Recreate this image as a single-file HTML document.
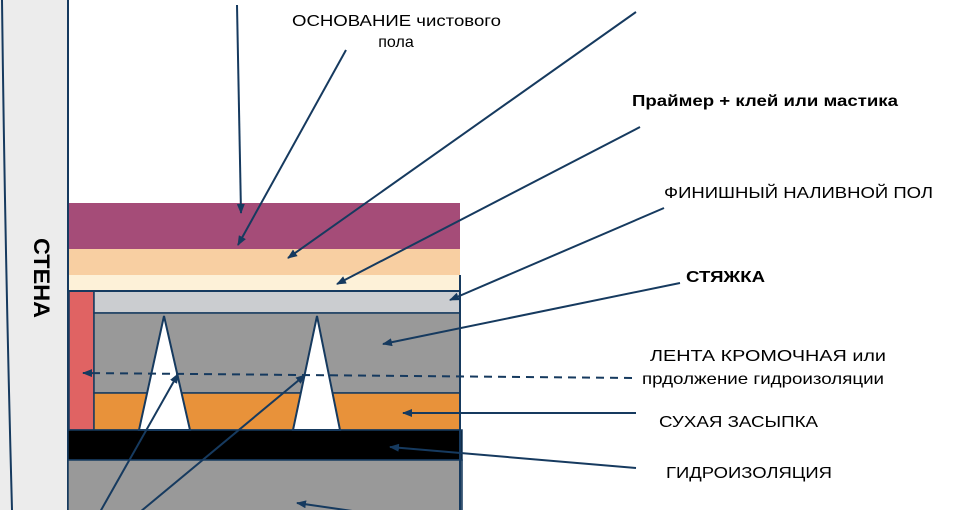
<!DOCTYPE html>
<html><head><meta charset="utf-8"><style>
html,body{margin:0;padding:0;background:#fff;}
svg{display:block;}
text{font-family:"Liberation Sans",Arial,sans-serif;fill:#000;}
</style></head><body>
<svg width="960" height="510" viewBox="0 0 960 510" xmlns="http://www.w3.org/2000/svg">
<defs>
<marker id="a" markerWidth="10" markerHeight="8" refX="9" refY="4" orient="auto" markerUnits="userSpaceOnUse">
<path d="M0,0 L10,4 L0,8 Z" fill="#163a5f"/></marker>
</defs>
<path d="M0,0 L68,0 L68,510 L0,510 Z" fill="#ececec"/>
<path d="M2,0 Q5,250 12,510" stroke="#163a5f" stroke-width="2" fill="none"/>
<line x1="68" y1="0" x2="68" y2="510" stroke="#163a5f" stroke-width="2"/>
<text transform="translate(34,278) rotate(90)" text-anchor="middle" font-size="22" font-weight="bold" textLength="80" lengthAdjust="spacingAndGlyphs">СТЕНА</text>
<rect x="69" y="203" width="391" height="46" fill="#a54c78"/>
<rect x="69" y="249" width="391" height="26" fill="#f8cfa2"/>
<rect x="69" y="275" width="391" height="16" fill="#fdf1d8"/>
<rect x="69" y="291" width="25" height="139" fill="#e06363" stroke="#163a5f" stroke-width="1.5"/>
<rect x="94" y="291" width="366" height="22" fill="#cbcdd0" stroke="#163a5f" stroke-width="1.5"/>
<rect x="94" y="313" width="366" height="80" fill="#999" stroke="#163a5f" stroke-width="1.5"/>
<rect x="94" y="393" width="366" height="37" fill="#e8923a" stroke="#163a5f" stroke-width="1.5"/>
<rect x="68" y="430" width="394" height="30" fill="#000" stroke="#163a5f" stroke-width="1.5"/>
<rect x="68" y="460" width="394" height="52" fill="#999" stroke="#163a5f" stroke-width="1.5"/>
<line x1="460" y1="275" x2="460" y2="510" stroke="#163a5f" stroke-width="2"/>
<line x1="69" y1="291" x2="460" y2="291" stroke="#163a5f" stroke-width="2"/>
<path d="M164,316 L190,430 L139,430 Z" fill="#fff" stroke="#163a5f" stroke-width="2"/>
<path d="M317,316 L340,430 L293,430 Z" fill="#fff" stroke="#163a5f" stroke-width="2"/>
<g stroke="#163a5f" stroke-width="2" fill="none" marker-end="url(#a)">
<line x1="237" y1="5" x2="241" y2="213"/>
<line x1="346" y1="50" x2="238" y2="245"/>
<line x1="636" y1="12" x2="288" y2="258"/>
<line x1="640" y1="127" x2="337" y2="284"/>
<line x1="664" y1="208" x2="450" y2="300"/>
<line x1="680" y1="283" x2="383" y2="344"/>
<line x1="632" y1="378" x2="83" y2="373" stroke-dasharray="8,6"/>
<line x1="636" y1="413" x2="403" y2="413"/>
<line x1="636" y1="468" x2="390" y2="447"/>
<line x1="380" y1="515" x2="297" y2="503"/>
<line x1="100" y1="512" x2="178" y2="374"/>
<line x1="140" y1="512" x2="305" y2="375"/>
</g>
<g font-size="16" lengthAdjust="spacingAndGlyphs">
<text x="292" y="26" textLength="209" lengthAdjust="spacingAndGlyphs">ОСНОВАНИЕ чистового</text>
<text x="396" y="47" text-anchor="middle">пола</text>
<text x="632" y="106" font-weight="bold" textLength="266" lengthAdjust="spacingAndGlyphs">Праймер + клей или мастика</text>
<text x="664" y="198" textLength="269" lengthAdjust="spacingAndGlyphs">ФИНИШНЫЙ НАЛИВНОЙ ПОЛ</text>
<text x="686" y="282" font-weight="bold" textLength="79" lengthAdjust="spacingAndGlyphs">СТЯЖКА</text>
<text x="650" y="361" textLength="236" lengthAdjust="spacingAndGlyphs">ЛЕНТА КРОМОЧНАЯ или</text>
<text x="642" y="384" textLength="242" lengthAdjust="spacingAndGlyphs">прдолжение гидроизоляции</text>
<text x="659" y="427" textLength="159" lengthAdjust="spacingAndGlyphs">СУХАЯ ЗАСЫПКА</text>
<text x="666" y="478" textLength="166" lengthAdjust="spacingAndGlyphs">ГИДРОИЗОЛЯЦИЯ</text>
</g>
</svg>
</body></html>
